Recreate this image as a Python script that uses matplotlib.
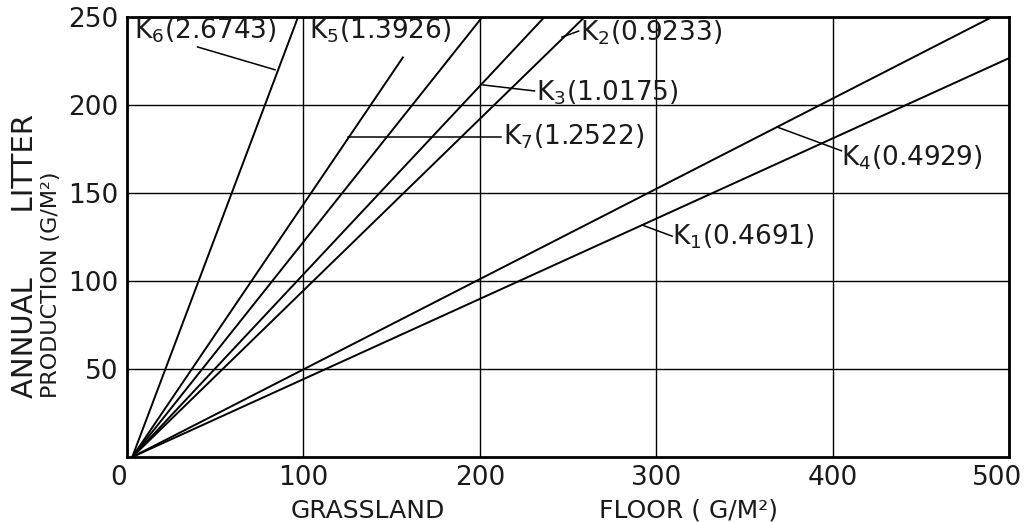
import matplotlib
matplotlib.use("Agg")
import matplotlib.pyplot as plt
import matplotlib.transforms as mtransforms
import numpy as np

# curve names and the K values printed on the chart
names = ["K$_6$", "K$_5$", "K$_7$", "K$_3$", "K$_2$", "K$_4$", "K$_1$"]
k_labels = ["2.6743", "1.3926", "1.2522", "1.0175", "0.9233", "0.4929", "0.4691"]
# slopes of the drawn lines
slopes = [2.66, 1.48, 1.26, 1.07, 0.975, 0.513, 0.456]
# K5 line stops below its label
y_stop = [250, 227, 250, 250, 250, 250, 250]
x_start = 3

x_ticks = [0, 100, 200, 300, 400, 500]
y_ticks = [50, 100, 150, 200, 250]

# label placement (data coords), same order as names
label_pos = [(4, 242), (103, 242), (213, 182), (232, 207), (257, 241), (405, 170), (309, 125)]
leaders = [((40, 233), (84, 220)),
           None,
           ((125.3, 181.8), (212, 181.8)),
           ((201.8, 211.4), (231, 208)),
           ((246.6, 238.6), (256, 242)),
           ((368.5, 187.5), (405, 174)),
           ((292, 131.8), (309, 125.5))]

FONT = "DejaVu Sans"
INK = "#1a1a1a"
plt.rcParams["mathtext.fontset"] = "dejavusans"

fig = plt.figure(figsize=(10.24, 5.22), dpi=100)
ax = fig.add_axes([0.124, 0.1245, 0.8614, 0.8429])

for s, ys in zip(slopes, y_stop):
    x_end = min(500, x_start + ys / s)
    xs = np.array([x_start, x_end])
    ax.plot(xs, s * (xs - x_start), color="black", lw=1.4)

for i in range(len(names)):
    tx, ty = label_pos[i]
    ax.text(tx, ty, names[i] + "(" + k_labels[i] + ")", ha="left", va="center",
            fontsize=19, family=FONT, color=INK)
    if leaders[i] is not None:
        (x0, y0), (x1, y1) = leaders[i]
        ax.plot([x0, x1], [y0, y1], color="black", lw=1.1)

ax.set_xlim(0, 500)
ax.set_ylim(0, 250)
ax.set_xticks(x_ticks)
ax.set_yticks(y_ticks)
ax.set_xticklabels([str(v) for v in x_ticks], fontsize=19, family=FONT, color=INK)
ax.set_yticklabels([str(v) for v in y_ticks], fontsize=19, family=FONT, color=INK)
ax.tick_params(length=0, pad=6)
# nudge the first and last x labels like the original
xl = ax.get_xticklabels()
xl[0].set_transform(xl[0].get_transform() + mtransforms.ScaledTranslation(-8 / 100, 0, fig.dpi_scale_trans))
xl[-1].set_transform(xl[-1].get_transform() + mtransforms.ScaledTranslation(-12 / 100, 0, fig.dpi_scale_trans))
ax.grid(True, color="black", lw=1.0)
ax.set_axisbelow(True)
for sp in ax.spines.values():
    sp.set_linewidth(2)

fig.text(0.359, 0.022, "GRASSLAND", fontsize=18, family=FONT, ha="center", va="center", color=INK)
fig.text(0.672, 0.022, "FLOOR ( G/M²)", fontsize=18, family=FONT, ha="center", va="center", color=INK)
fig.text(0.024, 0.51, "ANNUAL       LITTER", rotation=90, fontsize=21, family=FONT,
         ha="center", va="center", color=INK)
fig.text(0.05, 0.455, "PRODUCTION (G/M²)", rotation=90, fontsize=16, family=FONT,
         ha="center", va="center", color=INK)

fig.savefig("out.png", dpi=100)
